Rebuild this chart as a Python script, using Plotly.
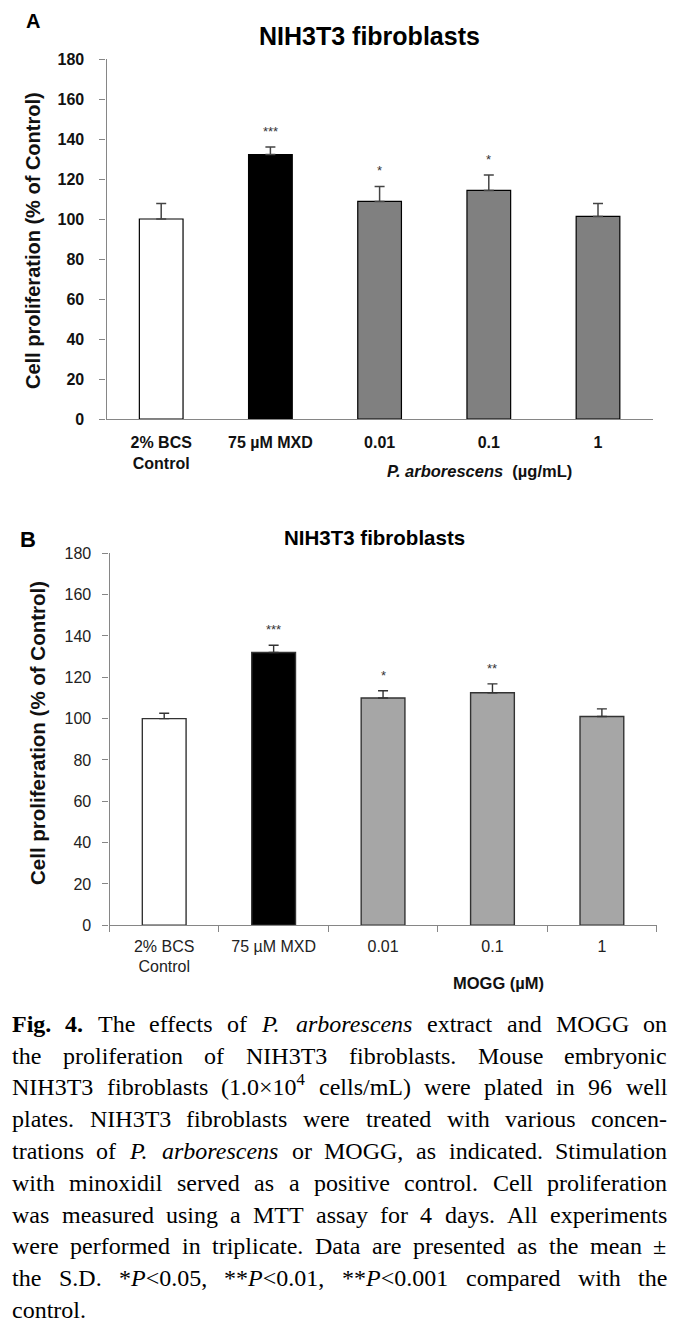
import re
import plotly.graph_objects as go

# ---------------- data ----------------
categories = ["2% BCS<br>Control", "75 µM MXD", "0.01", "0.1", "1"]
y_ticks = [0, 20, 40, 60, 80, 100, 120, 140, 160, 180]

a_values = [100.0, 132.2, 108.8, 114.3, 101.3]
a_errors = [7.8, 3.8, 7.5, 7.7, 6.5]
a_signif = ["", "***", "*", "*", ""]

b_values = [100.0, 132.0, 110.0, 112.5, 101.0]
b_errors = [2.6, 3.5, 3.5, 4.3, 3.7]
b_signif = ["", "***", "*", "**", ""]

a_colors = ["#FFFFFF", "#000000", "#808080", "#808080", "#808080"]
b_colors = ["#FFFFFF", "#000000", "#A6A6A6", "#A6A6A6", "#A6A6A6"]

caption_lines = [
    "<b>Fig.</b> <b>4.</b> The effects of <i>P.</i> <i>arborescens</i> extract and MOGG on",
    "the proliferation of NIH3T3 fibroblasts. Mouse embryonic",
    "NIH3T3 fibroblasts (1.0×10<sup>4</sup> cells/mL) were plated in 96 well",
    "plates. NIH3T3 fibroblasts were treated with various concen-",
    "trations of <i>P.</i> <i>arborescens</i> or MOGG, as indicated. Stimulation",
    "with minoxidil served as a positive control. Cell proliferation",
    "was measured using a MTT assay for 4 days. All experiments",
    "were performed in triplicate. Data are presented as the mean ±",
    "the S.D. *<i>P</i>&lt;0.05, **<i>P</i>&lt;0.01, **<i>P</i>&lt;0.001 compared with the",
    "control.",
]

# ---------------- layout helpers ----------------
# the page body has an 8 px margin, so the figure is drawn 8 px in from the
# window's top-left corner; coordinates below are window pixels.
OFF = 8
FW, FH = 672, 1322


def px(x):
    return (x - OFF) / FW


def py(y):
    return 1 - (y - OFF) / FH


fig = go.Figure()

fig.add_trace(go.Bar(
    x=categories, y=a_values, width=0.4, xaxis="x", yaxis="y",
    marker=dict(color=a_colors, line=dict(color="#000000", width=1.2)),
    error_y=dict(type="data", symmetric=False, array=a_errors,
                 arrayminus=[0] * len(a_errors), color="#444444",
                 thickness=1.5, width=5),
    showlegend=False, hoverinfo="skip"))

fig.add_trace(go.Bar(
    x=categories, y=b_values, width=0.4, xaxis="x2", yaxis="y2",
    marker=dict(color=b_colors, line=dict(color="#333333", width=1.4)),
    error_y=dict(type="data", symmetric=False, array=b_errors,
                 arrayminus=[0] * len(b_errors), color="#333333",
                 thickness=1.4, width=5),
    showlegend=False, hoverinfo="skip"))

annotations = []

# significance stars (x given as category index)
for i, (v, e, s) in enumerate(zip(a_values, a_errors, a_signif)):
    if s:
        annotations.append(dict(x=i, y=v + e + 8, xref="x", yref="y", text=s,
                                showarrow=False, yanchor="middle",
                                font=dict(family="Liberation Sans", size=13, color="#333333")))
for i, (v, e, s) in enumerate(zip(b_values, b_errors, b_signif)):
    if s:
        annotations.append(dict(x=i, y=v + e + 7.5, xref="x2", yref="y2", text=s,
                                showarrow=False, yanchor="middle",
                                font=dict(family="Liberation Sans", size=13, color="#333333")))


def paper_ann(x, y, text, size, bold=False, family="Liberation Sans", angle=0,
              xanchor="center", yanchor="middle", color="#111111"):
    annotations.append(dict(
        x=px(x), y=py(y), xref="paper", yref="paper", text=text, showarrow=False,
        xanchor=xanchor, yanchor=yanchor, textangle=angle, borderpad=0,
        font=dict(family=family, size=size, color=color,
                  weight="bold" if bold else "normal")))


# panel letters, titles, axis titles
paper_ann(33, 21, "A", 20, bold=True, color="#000")
paper_ann(369, 36, "NIH3T3 fibroblasts", 25, bold=True, color="#000")
paper_ann(33, 241, "Cell proliferation (% of Control)", 20, bold=True, angle=-90, color="#111")
paper_ann(480, 471, "<i>P. arborescens</i>  (µg/mL)", 16.5, bold=True, color="#111")

paper_ann(28, 540, "B", 22, bold=True, color="#000")
paper_ann(375, 537, "NIH3T3 fibroblasts", 20.5, bold=True, color="#000")
paper_ann(37, 733, "Cell proliferation (% of Control)", 20.5, bold=True, angle=-90, color="#111")
paper_ann(498, 983, "MOGG (µM)", 16.5, bold=True, color="#111")

# ---------------- caption (justified, Times metrics) ----------------
ROMAN = {" ": 250, "%": 833, "(": 333, ")": 333, "*": 500, ",": 250, "-": 333,
         ".": 250, "/": 278, ":": 278, ";": 278, "<": 564, "±": 564, "×": 564,
         "A": 722, "B": 667, "C": 667, "D": 722, "E": 611, "F": 556, "G": 722,
         "H": 722, "I": 333, "J": 389, "K": 722, "L": 611, "M": 889, "N": 722,
         "O": 722, "P": 556, "Q": 722, "R": 667, "S": 556, "T": 611, "U": 722,
         "V": 722, "W": 944, "X": 722, "Y": 722, "Z": 611,
         "a": 444, "b": 500, "c": 444, "d": 500, "e": 444, "f": 333, "g": 500,
         "h": 500, "i": 278, "j": 278, "k": 500, "l": 278, "m": 778, "n": 500,
         "o": 500, "p": 500, "q": 500, "r": 333, "s": 389, "t": 278, "u": 500,
         "v": 500, "w": 722, "x": 500, "y": 500, "z": 444}
ITALIC = dict(ROMAN)
ITALIC.update({"a": 500, "r": 389, "P": 611})
BOLD = dict(ROMAN)
BOLD.update({"F": 611})


def word_width(word, size):
    total = 0.0
    ital = bold = sup = False
    for tok in re.split(r"(<[^>]+>)", word):
        if not tok:
            continue
        if tok.startswith("<"):
            t = tok.lower()
            if t == "<i>":
                ital = True
            elif t == "</i>":
                ital = False
            elif t == "<b>":
                bold = True
            elif t == "</b>":
                bold = False
            elif t == "<sup>":
                sup = True
            elif t == "</sup>":
                sup = False
            continue
        tok = tok.replace("&lt;", "<")
        table = ITALIC if ital else (BOLD if bold else ROMAN)
        for ch in tok:
            total += table.get(ch, 500) / 1000.0 * size * (0.7 if sup else 1.0)
    return total


CAP_SIZE = 24
X0, X1 = 11, 666
BASE0, STEP = 1032.7, 31.8
for i, line in enumerate(caption_lines):
    words = line.split(" ")
    widths = [word_width(w, CAP_SIZE) for w in words]
    if i < len(caption_lines) - 1 and len(words) > 1:
        gap = (X1 - X0 - sum(widths)) / (len(words) - 1)
    else:
        gap = 0.25 * CAP_SIZE
    x = X0
    base = BASE0 + i * STEP
    for w, wd in zip(words, widths):
        annotations.append(dict(
            x=px(x), y=py(base + 0.216 * CAP_SIZE), xref="paper", yref="paper",
            text=w, showarrow=False, xanchor="left", yanchor="bottom", borderpad=0,
            font=dict(family="Liberation Serif", size=CAP_SIZE, color="#000")))
        x += wd + gap

# ---------------- axes ----------------
axis_gray = "#868686"

fig.update_layout(
    width=FW, height=FH, margin=dict(l=0, r=0, t=0, b=0, autoexpand=False),
    paper_bgcolor="white", plot_bgcolor="white",
    bargap=0.6,
    annotations=annotations,
    xaxis=dict(domain=[px(106.6), px(652.6)], anchor="y", type="category",
               automargin=False,
               showline=True, linecolor=axis_gray, linewidth=1.3, ticks="",
               showgrid=False, zeroline=False, ticklabelstandoff=9,
               tickfont=dict(family="Liberation Sans", size=16, color="#111", weight="bold")),
    yaxis=dict(domain=[py(419), py(59)], anchor="x", range=[0, 180],
               automargin=False,
               tickvals=y_ticks, showline=True, linecolor=axis_gray, linewidth=1.3,
               ticks="outside", ticklen=6, tickcolor=axis_gray, tickwidth=1.3,
               showgrid=False, zeroline=False, ticklabelstandoff=12,
               tickfont=dict(family="Liberation Sans", size=16, color="#111", weight="bold")),
    xaxis2=dict(domain=[px(109.5), px(656.6)], anchor="y2", type="category",
                automargin=False,
                showline=True, linecolor=axis_gray, linewidth=1.2,
                ticks="outside", ticklen=6, tickcolor=axis_gray, tickson="boundaries",
                showgrid=False, zeroline=False, ticklabelstandoff=6,
                tickfont=dict(family="Liberation Sans", size=16, color="#222")),
    yaxis2=dict(domain=[py(925.3), py(553.3)], anchor="x2", range=[0, 180],
                automargin=False,
                tickvals=y_ticks, showline=True, linecolor=axis_gray, linewidth=1.2,
                ticks="outside", ticklen=6, tickcolor=axis_gray,
                showgrid=False, zeroline=False, ticklabelstandoff=8,
                tickfont=dict(family="Liberation Sans", size=16, color="#222")),
)

fig.write_html("out.html")
